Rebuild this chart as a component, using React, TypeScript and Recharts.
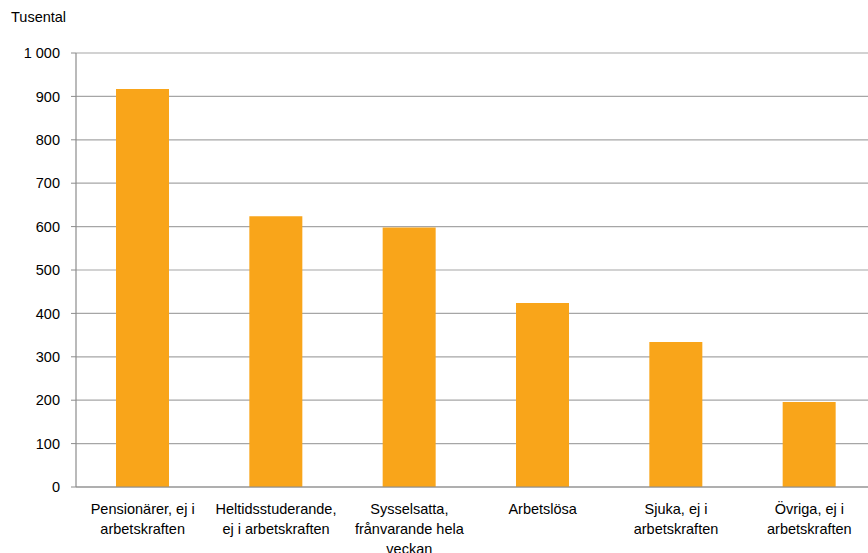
import React from "react";
import { BarChart, Bar, XAxis, YAxis, CartesianGrid } from "recharts";

const categories = [
  "Pensionärer, ej i arbetskraften",
  "Heltidsstuderande, ej i arbetskraften",
  "Sysselsatta, frånvarande hela veckan",
  "Arbetslösa",
  "Sjuka, ej i arbetskraften",
  "Övriga, ej i arbetskraften",
];
const values = [917, 624, 598, 424, 334, 196];
const yTicks = [0, 100, 200, 300, 400, 500, 600, 700, 800, 900, 1000];

const data = categories.map((name, i) => ({ name, value: values[i] }));

const FONT = '14.5px "Liberation Sans", Arial, sans-serif';

let ctx: CanvasRenderingContext2D | null = null;
function measure(s: string) {
  if (!ctx) {
    ctx = document.createElement("canvas").getContext("2d");
    if (ctx) ctx.font = FONT;
  }
  return ctx ? ctx.measureText(s).width : s.length * 7.5;
}

// simple word wrap, roughly like excel does it
function wrap(text: string, maxW: number) {
  const words = text.split(" ");
  const lines: string[] = [];
  let cur = "";
  for (const w of words) {
    const next = cur ? cur + " " + w : w;
    if (cur && measure(next) > maxW) {
      lines.push(cur);
      cur = w;
    } else {
      cur = next;
    }
  }
  if (cur) lines.push(cur);
  return lines;
}

const CatTick = (props: any) => {
  const { x, y, payload } = props;
  const lines = wrap(payload.value, 128);
  return (
    <text x={x} y={y} textAnchor="middle" fill="#000" style={{ font: FONT }}>
      {lines.map((l, i) => (
        <tspan key={i} x={x} dy={i === 0 ? 19 : 20}>
          {l}
        </tspan>
      ))}
    </text>
  );
};

export default function App() {
  return (
    <div
      style={{
        position: "absolute",
        left: 0,
        top: 0,
        width: 868,
        height: 553,
        overflow: "hidden",
        background: "#fff",
      }}
    >
      <div style={{ position: "absolute", left: 11, top: 9, font: FONT, color: "#000" }}>
        Tusental
      </div>
      <BarChart
        width={876}
        height={553}
        data={data}
        margin={{ top: 53, right: 0, bottom: 0, left: 0 }}
        barCategoryGap="30%"
      >
        <CartesianGrid vertical={false} stroke="#a6a6a6" strokeWidth={1.2} />
        <XAxis
          dataKey="name"
          height={66}
          tickLine={false}
          axisLine={{ stroke: "#8c8c8c", strokeWidth: 1.2 }}
          tick={<CatTick />}
          interval={0}
        />
        <YAxis
          width={76}
          domain={[0, 1000]}
          ticks={yTicks}
          interval={0}
          tickSize={5}
          tickMargin={11}
          tickLine={{ stroke: "#8c8c8c" }}
          axisLine={{ stroke: "#8c8c8c", strokeWidth: 1.2 }}
          tick={{ fill: "#000", style: { font: FONT } }}
          tickFormatter={(v: number) => (v >= 1000 ? "1 000" : String(v))}
        />
        <Bar dataKey="value" fill="#f9a51a" isAnimationActive={false} />
      </BarChart>
    </div>
  );
}
